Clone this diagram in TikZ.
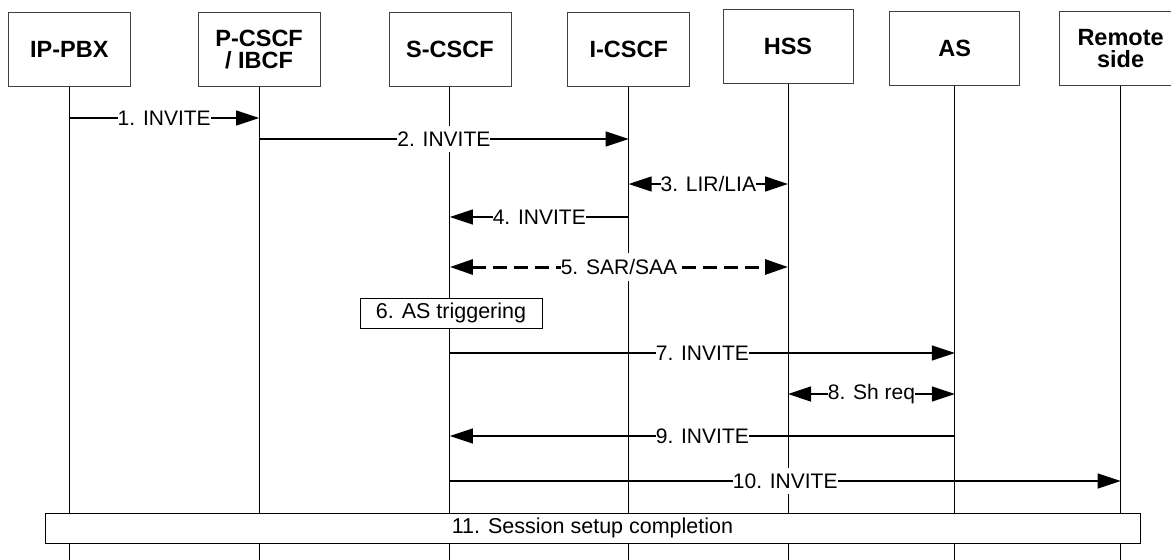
\documentclass[tikz,border=0pt]{standalone}
\usepackage{fontspec}
\setmainfont{Liberation Sans}
\usetikzlibrary{positioning,arrows.meta}

\begin{document}
\begin{tikzpicture}[x=1pt,y=-1pt,>={Triangle[length=23pt,width=15pt]},
   ent/.style={draw=black!75,line width=0.8pt,minimum width=122pt,minimum height=74pt,
     align=center,font=\fontsize{23.5}{22}\selectfont\bfseries},
   life/.style={line width=1pt},
   msg/.style={line width=1.3pt},
   lbl/.style={fill=white,inner xsep=0pt,inner ysep=6pt,font=\fontsize{21}{22}\selectfont},
   stepbox/.style={draw,fill=white,line width=1pt,minimum height=30pt,
     font=\fontsize{21.5}{22}\selectfont}]
  \useasboundingbox (0,0) rectangle (1171,560);
  % entities
  \node[ent] (pbx) at (69.3,49.5) {IP-PBX};
  \node[ent] (pcscf) [right=67pt of pbx] {P-CSCF\\/ IBCF};
  \node[ent] (scscf) [right=68pt of pcscf] {S-CSCF};
  \node[ent] (icscf) [right=56pt of scscf] {I-CSCF};
  \node[ent,minimum width=130pt] (hss) [right=32.5pt of icscf,yshift=3pt] {HSS};
  \node[ent,minimum width=130pt] (as) [right=36pt of hss,yshift=-2pt] {AS};
  \node[ent] (remote) [right=39pt of as] {Remote\\side};
  % rows
  \coordinate (bot) at (0,560);
  \foreach \n/\y in {1/118,2/139,3/184,4/217,5/267,7/353,8/394,9/436,10/481}
    \coordinate (r\n) at (0,\y);
  % lifelines
  \foreach \e in {pbx,pcscf,scscf,icscf,hss,as,remote}
    \draw[life] (\e.south) -- (\e.south |- bot);
  % messages
  \draw[msg,->] (pbx |- r1) -- node[lbl]{1. INVITE} (pcscf |- r1);
  \draw[msg,->] (pcscf |- r2) -- node[lbl]{2. INVITE} (icscf |- r2);
  \draw[msg,<->] (icscf |- r3) -- node[lbl]{3. LIR/LIA} (hss |- r3);
  \draw[msg,->] (icscf |- r4) -- node[lbl]{4. INVITE} (scscf |- r4);
  \draw[msg,<->,line width=3pt,dash pattern=on 14pt off 7pt]
    (scscf |- r5) -- node[lbl]{5. SAR/SAA} (hss |- r5);
  \node[stepbox,minimum width=182pt] (trig) at (451,313) {6. AS triggering};
  \draw[msg,->] (scscf |- r7) -- node[lbl]{7. INVITE} (as |- r7);
  \draw[msg,<->] (hss |- r8) -- node[lbl]{8. Sh req} (as |- r8);
  \draw[msg,->] (as |- r9) -- node[lbl]{9. INVITE} (scscf |- r9);
  \draw[msg,->] (scscf |- r10) -- node[lbl]{10. INVITE} (remote |- r10);
  \node[stepbox,minimum width=1095pt] (done) at (592.5,528) {11. Session setup completion};
\end{tikzpicture}
\end{document}
